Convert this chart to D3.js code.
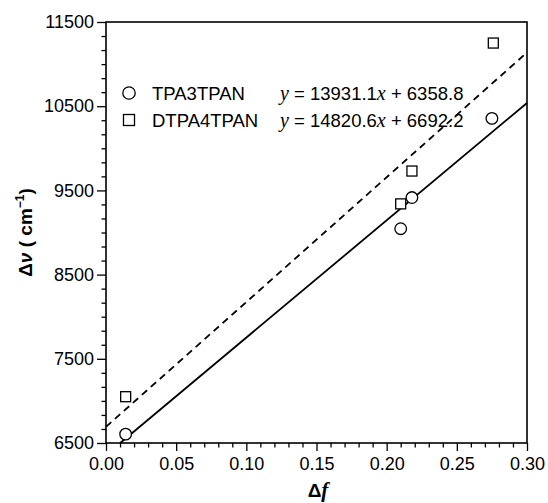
<!DOCTYPE html>
<html>
<head>
<meta charset="utf-8">
<script src="https://cdn.jsdelivr.net/npm/d3@7"></script>
<style>
  body { margin: 0; background: #fff; }
  svg text { font-family: Arial, "Liberation Sans", sans-serif; fill: #000; }
</style>
</head>
<body>
<div id="vis"></div>
<script>
(function() {
  // data
  var seriesNames = ['TPA3TPAN', 'DTPA4TPAN'];
  var tpaX = [0.014, 0.210, 0.218, 0.275];
  var tpaY = [6605, 9045, 9415, 10355];
  var dtpaX = [0.014, 0.210, 0.218, 0.276];
  var dtpaY = [7050, 9340, 9730, 11250];
  var fitSlope = [13931.1, 14820.6];
  var fitIntercept = [6358.8, 6692.2];
  var fitText = ['13931.1', '14820.6'];
  var fitIcpText = ['6358.8', '6692.2'];
  var xTicks = [0, 0.05, 0.10, 0.15, 0.20, 0.25, 0.30];
  var yTicks = [6500, 7500, 8500, 9500, 10500, 11500];

  var W = 548, H = 503;
  var margin = {left: 106, right: 21, top: 22, bottom: 60};

  var svg = d3.select('#vis').append('svg').attr('width', W).attr('height', H);

  var x = d3.scaleLinear().domain([0, 0.30]).range([margin.left, W - margin.right]);
  var y = d3.scaleLinear().domain([6500, 11500]).range([H - margin.bottom, margin.top]);

  var minorX = d3.range(0, 0.3001, 0.01).filter(function(v) {
    return Math.abs(v / 0.05 - Math.round(v / 0.05)) > 1e-6;
  });
  var minorY = d3.range(6500, 11501, 1000 / 6).filter(function(v) {
    return Math.abs((v - 6500) / 1000 - Math.round((v - 6500) / 1000)) > 1e-6;
  });

  // minor ticks
  svg.append('g').attr('transform', 'translate(0,' + y(6500) + ')')
    .call(d3.axisBottom(x).tickValues(minorX).tickSize(4.5).tickFormat(''))
    .call(function(g) { g.select('.domain').remove(); g.selectAll('line').attr('stroke-width', 1.3); });
  svg.append('g').attr('transform', 'translate(' + x(0) + ',0)')
    .call(d3.axisLeft(y).tickValues(minorY).tickSize(4.5).tickFormat(''))
    .call(function(g) { g.select('.domain').remove(); g.selectAll('line').attr('stroke-width', 1.3); });

  // major ticks
  var xAxis = svg.append('g').attr('transform', 'translate(0,' + y(6500) + ')')
    .call(d3.axisBottom(x).tickValues(xTicks).tickSize(8).tickPadding(6).tickFormat(d3.format('.2f')));
  var yAxis = svg.append('g').attr('transform', 'translate(' + x(0) + ',0)')
    .call(d3.axisLeft(y).tickValues(yTicks).tickSize(9).tickPadding(3).tickFormat(d3.format('d')));
  [xAxis, yAxis].forEach(function(g) {
    g.select('.domain').remove();
    g.selectAll('line').attr('stroke-width', 1.3);
    g.selectAll('text').attr('font-size', 18).attr('font-family', 'Arial, "Liberation Sans", sans-serif');
  });

  // frame
  svg.append('rect')
    .attr('x', x(0)).attr('y', y(11500))
    .attr('width', x(0.30) - x(0)).attr('height', y(6500) - y(11500))
    .attr('fill', 'none').attr('stroke', '#000').attr('stroke-width', 1.6);

  // fit lines
  var plot = svg.append('g');
  var dashes = [null, '7,5'];
  fitSlope.forEach(function(m, i) {
    var b = fitIntercept[i];
    var x0 = Math.max(0, (6500 - b) / m);
    var x1 = Math.min(0.30, (11500 - b) / m);
    plot.append('line')
      .attr('x1', x(x0)).attr('y1', y(m * x0 + b))
      .attr('x2', x(x1)).attr('y2', y(m * x1 + b))
      .attr('stroke', '#000').attr('stroke-width', 1.8)
      .attr('stroke-dasharray', dashes[i]);
  });

  // points
  var tpa = d3.zip(tpaX, tpaY), dtpa = d3.zip(dtpaX, dtpaY);
  plot.selectAll('circle.pt').data(tpa).enter().append('circle')
    .attr('class', 'pt')
    .attr('cx', function(d) { return x(d[0]); })
    .attr('cy', function(d) { return y(d[1]); })
    .attr('r', 5.8).attr('fill', '#fff').attr('stroke', '#000').attr('stroke-width', 1.3);
  plot.selectAll('rect.pt').data(dtpa).enter().append('rect')
    .attr('class', 'pt')
    .attr('x', function(d) { return x(d[0]) - 5; })
    .attr('y', function(d) { return y(d[1]) - 5; })
    .attr('width', 10).attr('height', 10)
    .attr('fill', '#fff').attr('stroke', '#000').attr('stroke-width', 1.3);

  // legend
  var legend = svg.append('g');
  seriesNames.forEach(function(name, i) {
    var ly = 93 + i * 27;
    if (i === 0) {
      legend.append('circle').attr('cx', 129).attr('cy', ly).attr('r', 6.2)
        .attr('fill', '#fff').attr('stroke', '#000').attr('stroke-width', 1.3);
    } else {
      legend.append('rect').attr('x', 123.5).attr('y', ly - 5.5).attr('width', 11).attr('height', 11)
        .attr('fill', '#fff').attr('stroke', '#000').attr('stroke-width', 1.3);
    }
    legend.append('text').attr('x', 152).attr('y', ly + 7).attr('font-size', 18.5).text(name);
    var eq = legend.append('text').attr('x', 280).attr('y', ly + 7).attr('font-size', 18.5);
    eq.append('tspan').attr('font-family', '"Liberation Serif", "Times New Roman", serif')
      .attr('font-style', 'italic').attr('font-size', 20).text('y');
    eq.append('tspan').text(' = ' + fitText[i]);
    eq.append('tspan').attr('font-family', '"Liberation Serif", "Times New Roman", serif')
      .attr('font-style', 'italic').attr('font-size', 20).text('x');
    eq.append('tspan').text(' + ' + fitIcpText[i]);
  });

  // axis titles
  var xt = svg.append('text').attr('x', 318).attr('y', 497)
    .attr('text-anchor', 'middle').attr('font-size', 19).attr('font-weight', 'bold');
  xt.append('tspan').text('Δ');
  xt.append('tspan').attr('font-family', '"Liberation Serif", "Times New Roman", serif')
    .attr('font-style', 'italic').attr('font-size', 21).text('f');

  var yt = svg.append('text').attr('transform', 'translate(32,' + y(9000) + ') rotate(-90)')
    .attr('text-anchor', 'middle').attr('font-size', 19).attr('font-weight', 'bold');
  yt.append('tspan').text('Δ');
  yt.append('tspan').attr('font-style', 'italic').text('ν');
  yt.append('tspan').text(' ( cm');
  yt.append('tspan').attr('font-size', 12).attr('dy', -8).text('−1');
  yt.append('tspan').attr('dy', 8).text(')');
})();
</script>
</body>
</html>
